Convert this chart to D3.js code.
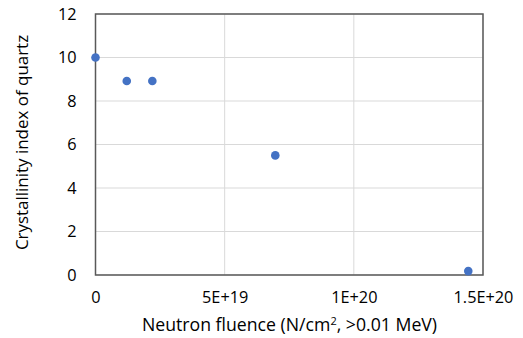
<!DOCTYPE html>
<html><head><meta charset="utf-8">
<script src="https://cdn.jsdelivr.net/npm/d3@7"></script>
<style>body{margin:0;background:#fff;}svg{display:block;}</style>
</head><body>
<script>
const fluence = [0, 1.21e19, 2.2e19, 6.96e19, 1.443e20];
const crystallinity = [10, 8.92, 8.92, 5.5, 0.18];
const xTicks = [0, 5e19, 1e20, 1.5e20];
const xTickLabels = ["0", "5E+19", "1E+20", "1.5E+20"];
const yTicks = [0, 2, 4, 6, 8, 10, 12];

const W = 523, H = 338;
const m = {left: 95.5, right: 40, top: 14, bottom: 63};
const svg = d3.select("body").append("svg").attr("width", W).attr("height", H);
const x = d3.scaleLinear().domain([0, 1.5e20]).range([m.left, W - m.right]);
const y = d3.scaleLinear().domain([0, 12]).range([H - m.bottom, m.top]);
const font = "'Open Sans', sans-serif";
const fs = 16.3;

// gridlines
svg.append("g").selectAll("line.h").data(yTicks).join("line")
  .attr("x1", x(0)).attr("x2", x(1.5e20)).attr("y1", d => y(d)).attr("y2", d => y(d))
  .attr("stroke", "#d9d9d9").attr("stroke-width", 1);
svg.append("g").selectAll("line.v").data(xTicks).join("line")
  .attr("y1", y(0)).attr("y2", y(12)).attr("x1", d => x(d)).attr("x2", d => x(d))
  .attr("stroke", "#d9d9d9").attr("stroke-width", 1);

// frame
svg.append("rect").attr("x", x(0)).attr("y", y(12)).attr("width", x(1.5e20) - x(0)).attr("height", y(0) - y(12))
  .attr("fill", "none").attr("stroke", "#595959").attr("stroke-width", 1.5);

// axes
const xAxis = svg.append("g").attr("transform", `translate(0,${y(0)})`)
  .call(d3.axisBottom(x).tickValues(xTicks).tickSize(0).tickPadding(16).tickFormat((d, i) => xTickLabels[i]));
xAxis.select(".domain").remove();
xAxis.selectAll("text").attr("font-family", font).attr("font-size", fs).attr("fill", "#000");

const yAxis = svg.append("g").attr("transform", `translate(${x(0)},0)`)
  .call(d3.axisLeft(y).tickValues(yTicks).tickSize(0).tickPadding(19));
yAxis.select(".domain").remove();
yAxis.selectAll("text").attr("font-family", font).attr("font-size", fs).attr("fill", "#000");

// points
svg.append("g").selectAll("circle").data(fluence.map((f, i) => [f, crystallinity[i]])).join("circle")
  .attr("cx", d => x(d[0])).attr("cy", d => y(d[1])).attr("r", 4.3).attr("fill", "#4472c4");

// axis titles
function fit(sel, target) {
  const len = sel.node().getComputedTextLength();
  const cur = +sel.attr("font-size");
  sel.attr("font-size", cur * target / len);
}
const xt = svg.append("text").attr("x", 289.5).attr("y", 331).attr("text-anchor", "middle")
  .attr("font-family", font).attr("font-size", fs).attr("fill", "#000");
xt.append("tspan").text("Neutron fluence (N/cm");
xt.append("tspan").text("2").attr("font-size", "0.62em").attr("dy", -6);
xt.append("tspan").text(", >0.01 MeV)").attr("dy", 6);
fit(xt, 295);

const yt = svg.append("text").attr("transform", `translate(28,${142.5}) rotate(-90)`)
  .attr("text-anchor", "middle").attr("font-family", font).attr("font-size", fs).attr("fill", "#000")
  .text("Crystallinity index of quartz");
fit(yt, 215);
</script>
</body></html>
